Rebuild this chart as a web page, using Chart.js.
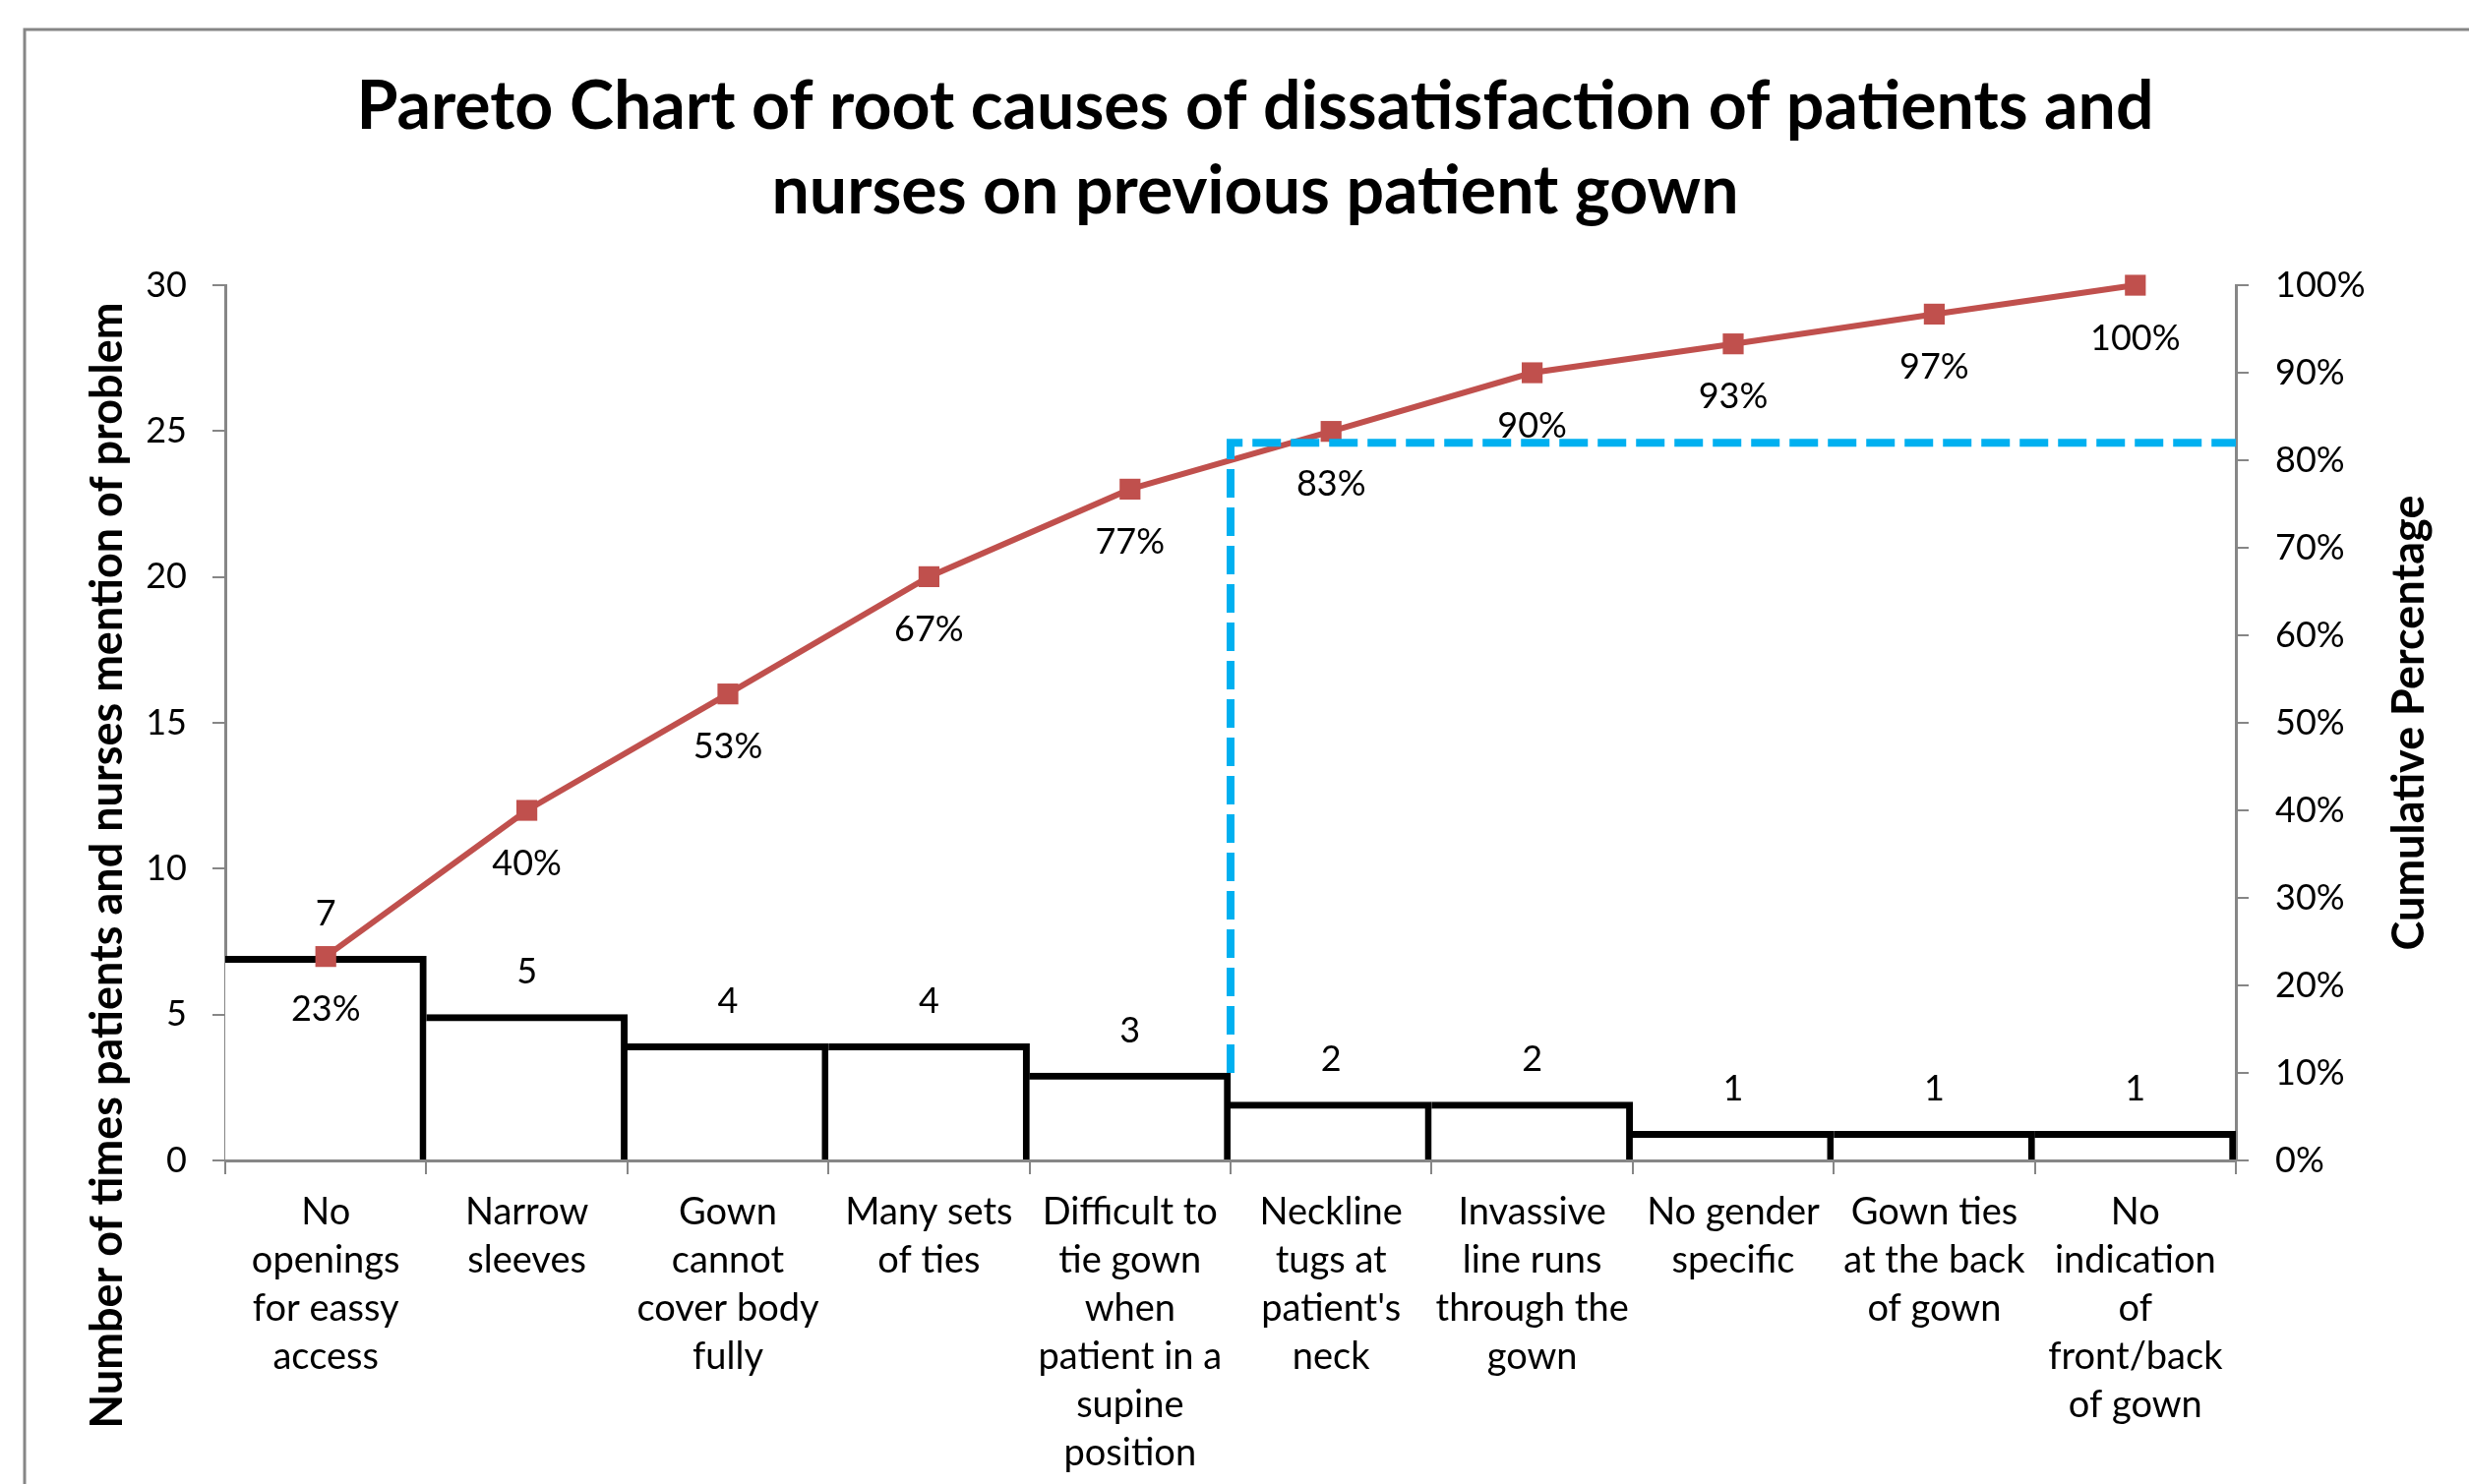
<!DOCTYPE html>
<html>
<head>
<meta charset="utf-8">
<script src="https://cdn.jsdelivr.net/npm/chart.js@4.4.1/dist/chart.umd.min.js"></script>
<style>
  html, body { margin: 0; padding: 0; background: #fff; }
  #wrap { width: 2510px; height: 1509px; }
</style>
</head>
<body>
<div id="wrap"><canvas id="pareto"></canvas></div>
<script>
// root causes, in pareto order
var causes = [
    ["No", "openings", "for eassy", "access"],
    ["Narrow", "sleeves"],
    ["Gown", "cannot", "cover body", "fully"],
    ["Many sets", "of ties"],
    ["Difficult to", "tie gown", "when", "patient in a", "supine", "position"],
    ["Neckline", "tugs at", "patient's", "neck"],
    ["Invassive", "line runs", "through the", "gown"],
    ["No gender", "specific"],
    ["Gown ties", "at the back", "of gown"],
    ["No", "indication", "of", "front/back", "of gown"]
];
var counts = [7, 5, 4, 4, 3, 2, 2, 1, 1, 1];
var cumulativePct = [23.3, 40, 53.3, 66.7, 76.7, 83.3, 90, 93.3, 96.7, 100];
// dashed 80/20 cut-off (x in category units, y in percent)
var cutoffLine = [{x: 4.5, y: 10}, {x: 4.5, y: 82}, {x: 9.5, y: 82}];

var titleLines = ["Pareto Chart of root causes of dissatisfaction of patients and", "nurses on previous patient gown"];
var leftTitle = "Number of times patients and nurses mention of problem";
var rightTitle = "Cumulative Percentage";

var axisGrey = '#868686';
var fontName = 'Lato';

var framePlugin = {
    id: 'frame',
    beforeDraw: function (chart) {
        var ctx = chart.ctx;
        ctx.save();
        ctx.fillStyle = '#fff';
        ctx.fillRect(0, 0, chart.width, chart.height);
        ctx.strokeStyle = axisGrey;
        ctx.lineWidth = 3;
        ctx.strokeRect(25, 30, 2700, 1700);
        ctx.restore();
    },
    afterDraw: function (chart) {
        var ctx = chart.ctx;
        var area = chart.chartArea;
        ctx.save();
        ctx.fillStyle = '#000';
        ctx.font = 'bold 45px ' + fontName;
        ctx.textAlign = 'center';
        ctx.textBaseline = 'middle';
        ctx.translate(109, 880);
        ctx.rotate(-Math.PI / 2);
        ctx.fillText(leftTitle, 0, 0);
        ctx.restore();

        ctx.save();
        ctx.fillStyle = '#000';
        ctx.font = 'bold 45px ' + fontName;
        ctx.textAlign = 'center';
        ctx.textBaseline = 'middle';
        ctx.translate(2449, (area.top + area.bottom) / 2);
        ctx.rotate(-Math.PI / 2);
        ctx.fillText(rightTitle, 0, 0);
        ctx.restore();
    }
};

var valueLabels = {
    id: 'valueLabels',
    afterDatasetDraw: function (chart, args) {
        var meta = args.meta;
        if (meta.xAxisID === 'xLin') return;
        var ctx = chart.ctx;
        ctx.save();
        ctx.font = '36px ' + fontName;
        ctx.fillStyle = '#000';
        ctx.textAlign = 'center';
        ctx.textBaseline = 'middle';
        for (var i = 0; i < meta.data.length; ++i) {
            var el = meta.data[i];
            if (meta.type === 'bar') {
                ctx.fillText(counts[i], el.x, el.y - 43);
            } else {
                ctx.fillText(Math.round(cumulativePct[i]) + '%', el.x, el.y + 54);
            }
        }
        ctx.restore();
    }
};

new Chart(document.getElementById('pareto'), {
    type: 'bar',
    data: {
        labels: causes,
        datasets: [{
            type: 'line',
            label: 'Cut-off',
            data: cutoffLine,
            xAxisID: 'xLin',
            yAxisID: 'yPct',
            borderColor: '#00B0F0',
            borderWidth: 8,
            borderDash: [29, 10],
            pointRadius: 0,
            fill: false,
            clip: false,
            order: 0
        }, {
            type: 'line',
            label: 'Cumulative Percentage',
            data: cumulativePct,
            yAxisID: 'yPct',
            borderColor: '#C0504D',
            backgroundColor: '#C0504D',
            borderWidth: 6,
            pointStyle: 'rect',
            pointRadius: 15,
            pointBorderWidth: 0,
            fill: false,
            clip: false,
            order: 1
        }, {
            type: 'bar',
            label: 'Count',
            data: counts,
            yAxisID: 'y',
            backgroundColor: '#fff',
            borderColor: '#000',
            borderWidth: {top: 7, right: 7, left: 0, bottom: 0},
            borderSkipped: false,
            barPercentage: 1,
            categoryPercentage: 1,
            grouped: false,
            order: 2
        }]
    },
    options: {
        responsive: true,
        maintainAspectRatio: false,
        animation: false,
        layout: {padding: {left: 42}},
        plugins: {
            legend: {display: false},
            tooltip: {enabled: false},
            title: {
                display: true,
                text: titleLines,
                color: '#000',
                font: {family: fontName, size: 68, weight: 'bold', lineHeight: 1.265},
                padding: {top: 66, bottom: 52}
            }
        },
        scales: {
            x: {
                offset: true,
                grid: {offset: true, drawOnChartArea: false, tickLength: 14, color: axisGrey, lineWidth: 2},
                border: {color: axisGrey, width: 3},
                ticks: {color: '#000', font: {family: fontName, size: 38, lineHeight: 1.29}, padding: 14, maxRotation: 0, autoSkip: false},
                afterFit: function (scale) { scale.height = 329; }
            },
            xLin: {type: 'linear', display: false, offset: false, min: -0.5, max: 9.5},
            y: {
                position: 'left',
                min: 0,
                max: 30,
                ticks: {stepSize: 5, color: '#000', font: {family: fontName, size: 36}, padding: 26},
                grid: {drawOnChartArea: false, tickLength: 13, color: axisGrey, lineWidth: 2},
                border: {color: axisGrey, width: 3},
                afterFit: function (scale) { scale.width = 187; }
            },
            yPct: {
                position: 'right',
                min: 0,
                max: 100,
                ticks: {stepSize: 10, color: '#000', font: {family: fontName, size: 36}, padding: 27,
                    callback: function (v) { return v + '%'; }},
                grid: {drawOnChartArea: false, tickLength: 13, color: axisGrey, lineWidth: 2},
                border: {color: axisGrey, width: 3},
                afterFit: function (scale) { scale.width = 237; }
            }
        }
    },
    plugins: [framePlugin, valueLabels]
});
</script>
</body>
</html>
